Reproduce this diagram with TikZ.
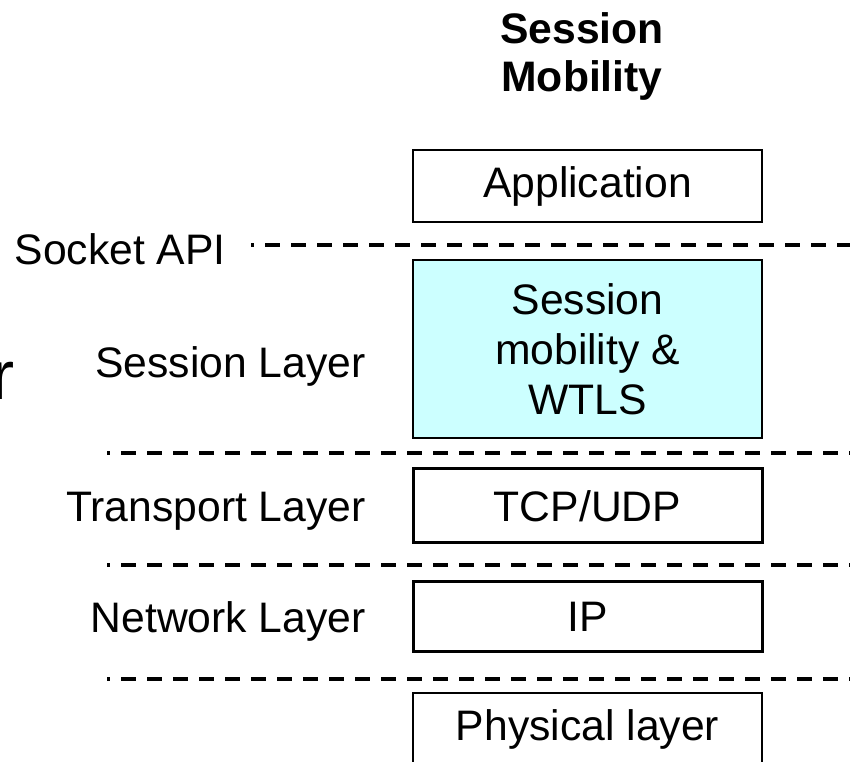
\documentclass[tikz,border=0pt]{standalone}
\usepackage{fontspec}
\setmainfont{Liberation Sans}
\usepackage{tikz}
\usetikzlibrary{positioning}
\definecolor{sessfill}{HTML}{CCFFFF}
\tikzset{
  layer/.style={
    draw, rectangle,
    minimum width=261.75pt, minimum height=54pt,
    line width=1.25pt, inner sep=0pt, align=center,
    font=\fontsize{32}{37.5}\selectfont
  },
  thk/.style={line width=2.25pt},
  lbl/.style={inner sep=0pt, font=\fontsize{32}{37.5}\selectfont},
  ttl/.style={inner sep=0pt, align=center,
    font=\fontsize{32}{36}\selectfont\bfseries},
  sep/.style={line width=2.5pt, dash pattern=on 11pt off 8.5pt, dash phase=9pt},
}

\begin{document}
\begin{tikzpicture}[x=0.75pt, y=-0.75pt]
    \useasboundingbox (0,0) rectangle (850,762);
    % column title
    \node[ttl] (title) at (582,56) {Session\\Mobility};
    % protocol stack
    \node[layer] (app) at (587.5,186) {Application};
    \node[layer, fill=sessfill, line width=2pt, minimum height=133.5pt] (sess) at (587.5,349)
      {Session\\mobility \&\\WTLS};
    \node[layer, thk, minimum height=55.5pt] (tcp) at (587.5,506) {TCP/UDP};
    \node[layer, thk, minimum height=52.5pt] (ip) at (587.5,617) {IP};
    \node[layer] (phys) at (587.5,729) {Physical layer};
    % layer names
    \node[lbl, anchor=base east] (sock) at (226,265) {Socket API};
    \node[lbl, anchor=base east] (sessl) at (366,378) {Session Layer};
    \node[lbl, anchor=base east] (tranl) at (366,522) {Transport Layer};
    \node[lbl, anchor=base east] (netl) at (366,633) {Network Layer};
    \node[lbl, anchor=base east, font=\fontsize{52}{60}\selectfont] (cut) at (15,400) {r};
    % separators
    \coordinate (s1a) at (251,245);  \coordinate (s1b) at (850,245);
    \coordinate (s2a) at (107,453);  \coordinate (s2b) at (850,453);
    \coordinate (s3a) at (107,565);  \coordinate (s3b) at (850,565);
    \coordinate (s4a) at (107,679);  \coordinate (s4b) at (850,679);
    \draw[sep] (s1a) -- (s1b);
    \draw[sep] (s2a) -- (s2b);
    \draw[sep] (s3a) -- (s3b);
    \draw[sep] (s4a) -- (s4b);
\end{tikzpicture}
\end{document}
